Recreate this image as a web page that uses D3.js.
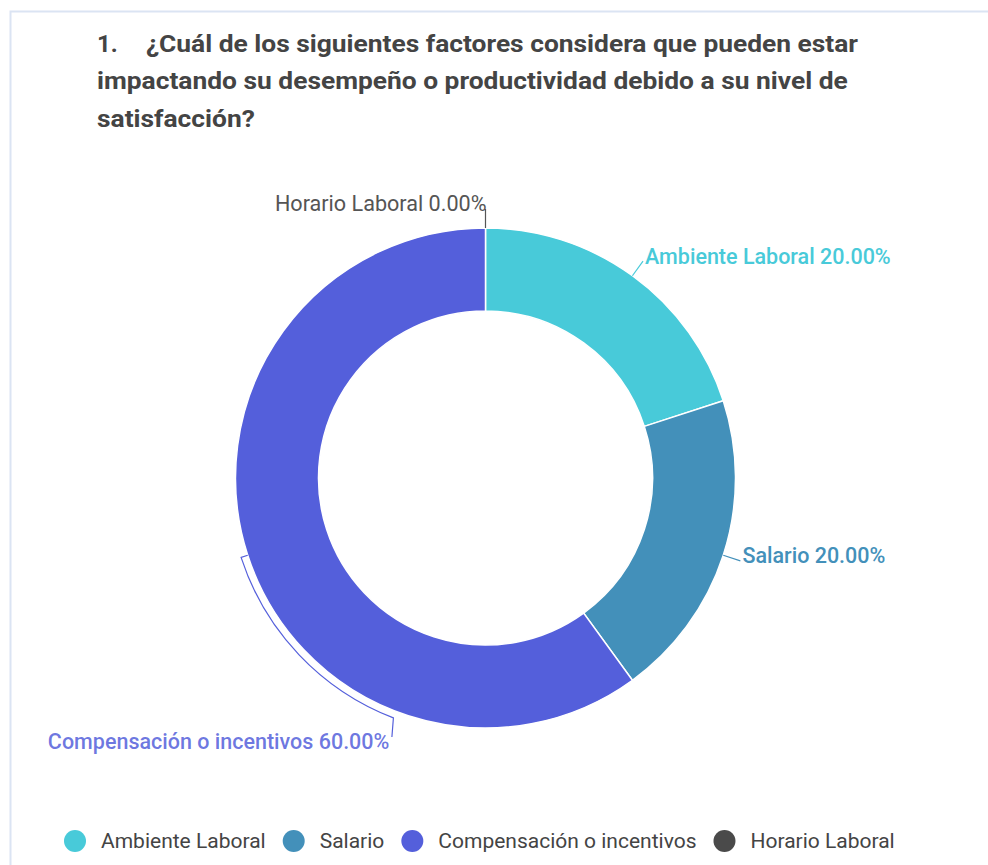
<!DOCTYPE html>
<html>
<head>
    <meta charset="utf-8">
    <style>
        body {
            margin: 0;
            background: white;
            font-family: Roboto, "Noto Sans", sans-serif;
        }
        svg {
            display: block;
        }
        .title {
            font-weight: bold;
            font-size: 24px;
            fill: #444;
        }
        .slice-label {
            font-size: 21.5px;
            font-weight: 500;
        }
        .slice-label.empty {
            font-size: 21.6px;
            font-weight: 400;
        }
        .legend text {
            font-size: 21px;
            fill: #444;
        }
    </style>
</head>
<body>
    <svg width="988" height="865"></svg>

<script src="https://cdn.jsdelivr.net/npm/d3@7"></script>
<script>

    // data
    let categories = ["Ambiente Laboral", "Salario", "Compensación o incentivos", "Horario Laboral"];
    let percents = [20, 20, 60, 0];
    let colors = ["#48cad9", "#4390ba", "#545fdb", "#4a4a4a"];
    let titleLines = [
        "¿Cuál de los siguientes factores considera que pueden estar",
        "impactando su desempeño o productividad debido a su nivel de",
        "satisfacción?"
    ];

    let width = 988;
    let height = 865;

    let svg = d3.select("svg");

    // light frame round the card
    svg.append("path")
        .attr("d", `M10.5,${height} V11.5 H${width}`)
        .style("fill", "none")
        .style("stroke", "#dbe4f3")
        .style("stroke-width", 2);

    // title, squeezed a little so the first line ends where it should
    let title = svg.append("g").attr("class", "title");
    title.append("text").attr("x", 97).attr("y", 52).text("1.");
    let titleX = [146, 97, 97];
    let titleY = [52, 89, 127];
    let squeeze = 1;
    titleLines.forEach((t, i) => {
        let el = title.append("text")
            .attr("x", titleX[i])
            .attr("y", titleY[i])
            .text(t);
        let w = el.node().getComputedTextLength();
        if (i == 0) squeeze = 712 / w;
        el.attr("textLength", w * squeeze)
            .attr("lengthAdjust", "spacingAndGlyphs");
    });

    // donut
    let cx = 485.5, cy = 478;
    let outer = 250, inner = 167;

    let data = categories.map((c, i) => ({ name: c, value: percents[i], color: colors[i] }));

    let pie = d3.pie().sort(null).value(d => d.value);
    let arcs = pie(data);

    let arc = d3.arc().innerRadius(inner).outerRadius(outer);

    let g = svg.append("g").attr("transform", `translate(${cx},${cy})`);

    g.selectAll(".slice")
        .data(arcs.filter(d => d.value > 0))
        .join("path")
        .attr("class", "slice")
        .attr("d", arc)
        .style("fill", d => d.data.color)
        .style("stroke", "white")
        .style("stroke-width", 1.5);

    // labels
    let fmt = d3.format(".2f");
    let labelR = 268;
    // the big slice's label gets pushed round to the bottom
    let shiftDeg = { "Compensación o incentivos": -51 };

    function pt(a, r) {
        return [Math.sin(a) * r, -Math.cos(a) * r];
    }

    arcs.forEach(d => {
        let mid = (d.startAngle + d.endAngle) / 2;
        if (d.value == 0) mid = d.startAngle;
        let col = d.data.value == 0 ? "#555" : d.data.color;
        let p0 = pt(mid, outer);
        let path = d3.path();
        let tx, ty, anchor;

        if (shiftDeg[d.data.name]) {
            let a2 = mid + shiftDeg[d.data.name] * Math.PI / 180;
            let r2 = outer + 7;
            let p1 = pt(mid, r2);
            let p2 = pt(a2, r2);
            path.moveTo(p0[0], p0[1]);
            path.lineTo(p1[0], p1[1]);
            path.arc(0, 0, r2, mid - Math.PI / 2, a2 - Math.PI / 2, true);
            path.lineTo(p2[0] - 1.5, p2[1] + 19);
            tx = p2[0] - 4;
            ty = p2[1] + 24;
            anchor = "end";
        } else {
            let p1 = pt(mid, labelR);
            path.moveTo(p0[0], p0[1]);
            path.lineTo(p1[0], p1[1]);
            if (Math.sin(mid) > 0.01) {
                tx = p1[0] + 2;
                anchor = "start";
                ty = p1[1] - 5;
            } else {
                tx = p1[0] + 1;
                anchor = "end";
                ty = p1[1] - 7;
            }
            if (d.value == 0) {
                path.moveTo(p0[0], p0[1]);
                path.lineTo(p1[0], p1[1] - 1);
            }
        }

        g.append("path")
            .attr("d", path.toString())
            .style("fill", "none")
            .style("stroke", col)
            .style("stroke-width", 1.2);

        g.append("text")
            .attr("class", d.data.value == 0 ? "slice-label empty" : "slice-label")
            .attr("x", tx)
            .attr("y", ty)
            .attr("dy", "0.35em")
            .attr("text-anchor", anchor)
            .style("fill", d.data.value == 0 ? "#555" : d.data.color)
            .style("fill-opacity", d.data.name == "Compensación o incentivos" ? 0.85 : 1)
            .text(`${d.data.name} ${fmt(d.data.value)}%`);
    });

    // legend
    let legend = svg.append("g").attr("class", "legend");
    let lx = 75;
    data.forEach(d => {
        legend.append("circle")
            .attr("cx", lx)
            .attr("cy", 841)
            .attr("r", 11)
            .style("fill", d.color);
        let t = legend.append("text")
            .attr("x", lx + 26)
            .attr("y", 848)
            .text(d.name);
        lx = lx + 26 + t.node().getComputedTextLength() + 28;
    });

</script>
</body>
</html>
